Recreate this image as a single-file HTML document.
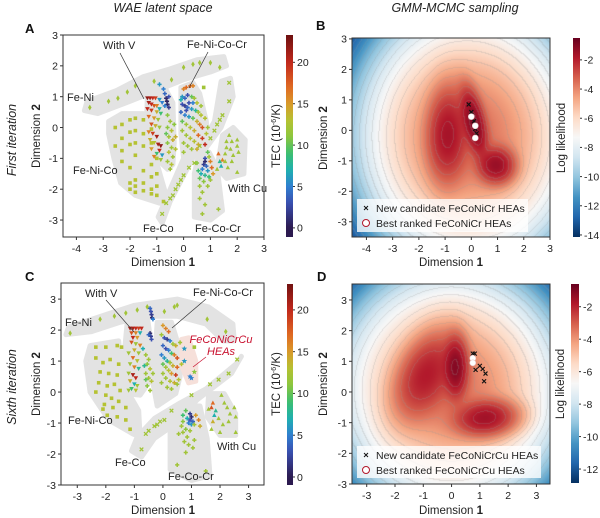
<!DOCTYPE html>
<html><head><meta charset="utf-8">
<style>
body{margin:0;background:#fff;width:600px;height:518px;overflow:hidden;position:relative;font-family:"Liberation Sans",sans-serif}
canvas{position:absolute}
svg{position:absolute;left:0;top:0}
</style></head><body>
<canvas id="hmB" style="left:352px;top:38px" width="198" height="199"></canvas>
<canvas id="hmD" style="left:352px;top:284px" width="198" height="200"></canvas>
<svg id="svg" width="600" height="518" font-family="Liberation Sans, sans-serif"></svg>
<script>
// ---------- DATA ----------
const tecTicks=[0,5,10,15,20];
const llTicksB=[-2,-4,-6,-8,-10,-12,-14];
const llTicksD=[-2,-4,-6,-8,-10,-12];
const xTicksAB=[-4,-3,-2,-1,0,1,2,3];
const xTicksCD=[-3,-2,-1,0,1,2,3];
const yTicksA=[-3,-2,-1,0,1,2,3];
// panel A points "x y tec;..."
const aFeNi="-3.5 .65 12;-2.8 .85 12;-2.45 .95 12;-2.1 1.15 12;-1.8 1.35 12;-1.1 1.5 12;-0.45 1.55 12;0 1.95 12;0.35 2.05 12;0.6 2.1 12;1.0 2.1 12;1.35 1.95 12";
const aFeNiCo="-2.3 .1 13;-2.3 -.35 13;-2.3 -.75 13;-2.3 -1.1 13;-2 .25 13;-2 -.15 13;-2 -.55 13;-2 -1.3 13;-2 -1.8 13;-2 -2 13;-1.8 .3 13;-1.8 -.1 13;-1.8 -.5 13;-1.8 -.9 13;-1.8 -1.7 13;-1.8 -1.9 13;-1.8 -2.1 13;-1.5 .25 13;-1.5 -.2 13;-1.5 -.6 13;-1.5 -1.4 13;-1.5 -1.8 13;-1.5 -2.05 13;-1.2 -.05 13;-1.2 -.5 13;-1.2 -1.2 13;-1.2 -1.6 13;-1.2 -2 13;-1.2 -2.15 13;-1 -1 13;-1 -1.5 13;-1 -1.9 13;-1 -2.2 13;-.75 -2.4 13;-2.55 0 13;-2.55 -.6 13;.75 1.3 12";
const aFeCo="-.8 -2.8 12;-.65 -2.45 12;-.5 -2.3 12;-.4 -2.2 12;-.3 -2 12;-.2 -1.85 12;-.1 -1.7 12;0 -1.55 12;.2 -1.3 12;.4 -1.15 12;1.7 1.45 12;1.7 .85 12;1.45 .4 12;1.35 .25 12;1.25 .1 12;1.15 -.1 12;1 -.35 12;.6 -.6 12";
const aFeCoCr=".8 -1 3;.8 -1.1 1;.75 -1.2 2;.85 -1.25 4;.7 -1.35 5;.9 -1.4 6;.65 -1.5 7;.8 -1.55 8;.95 -1.6 9;.55 -1.4 9;.6 -1.65 10;.75 -1.75 11;.6 -1.9 12;.9 -1.9 12;.7 -2.1 12;.6 -2.3 12;.8 -2.5 12;.7 -2.8 12;1.3 -2.65 12;1 -1.1 16;1.05 -1.3 17;.9 -.8 10;.95 -.95 12;.5 -1.15 11;1 -1.7 12;1.1 -1.5 15";
const aCu="1.7 -.25 12;1.6 -.45 12;1.8 -.45 12;1.6 -.65 12;1.75 -.7 12;2 -.4 12;2 -.6 12;1.55 -.85 12;1.85 -.9 12;2.05 -.8 12;1.8 -1.1 12;1.65 -1.3 12;2 -1.45 12;1.45 -1.05 16;1.35 -1.1 8;1.4 -1.25 7;1.3 -.85 17;1.25 -1.35 12;1.55 -1.1 12";
const aV="-1.35 .95 22;-1.25 .95 21;-1.15 .95 20;-1.05 .95 19;-1.3 .8 21;-1.2 .75 20;-1.1 .7 18;-1 .7 16;-1.35 .6 20;-1.2 .55 19;-1 .5 14;-.9 .6 7;-.85 .45 9;-1.3 .35 17;-1.1 .3 15;-.95 .25 12;-1.2 .1 18;-1.05 .05 14;-.9 0 12;-1.3 -.15 16;-1.15 -.2 19;-1 -.3 21;-1.25 -.4 14;-1.1 -.5 13;-.95 -.55 21;-.85 -.6 22;-1.2 -.7 15;-.9 -.75 20;-1 -.85 9;-.8 -.9 6;-1.1 -.95 16;-.85 -1.05 12;-.9 .9 6;-.8 .8 5";
const aMid="-.75 1.25 5;-.7 1.1 4;-.65 .95 1;-.62 .85 .5;-.6 .75 1;-.55 .65 2;-.7 .7 5;-.9 1.4 6;-.55 1 3;-.6 .4 11;-.5 .2 12;-.6 0 11;-.45 -.1 13;-.55 -.3 12;-.4 -.4 14;-.6 -.5 11;-.45 -.65 12;-.55 -.8 13;-.4 -.95 12;-.6 -1.1 12;-.45 -1.2 13;-.3 -.3 14;-.35 .1 11;-.65 -.2 10;-.5 -1.35 12;-.3 -.7 13";
const aFNCC="0 1.25 16;.1 1.3 17;.25 1.35 17;.35 1.35 16;-.05 1 6;.05 .95 4;.15 1.05 3;.3 1 10;.4 .95 12;.5 .8 13;-.05 .75 3;.05 .7 2;.15 .65 4;.3 .6 6;.45 .55 8;.55 .5 12;.65 .4 13;-.1 .5 4;.05 .4 5;.2 .35 6;.35 .3 10;.5 .2 14;.6 .1 16;.7 0 18;-.05 .2 10;.1 .1 12;.25 0 13;.4 -.1 14;.55 -.25 17;.7 -.35 19;.8 -.55 20;-.05 -.1 12;.1 -.25 12;.25 -.35 13;.4 -.45 13;.55 -.55 14;0 -.5 12;.15 -.6 12;.3 -.7 12;.5 -.7 14;0 -.8 12;.65 .7 12;.8 .3 13;.9 0 12;.85 -.2 13;.2 .8 3;.35 .8 5;.1 .55 3;-.1 .9 7";
// panel C points
const cFeNi="-3.25 1.9 12;-2.2 2.35 12;-1.7 2.45 12;-1.3 2.55 12;-.9 2.65 12;-.55 2.75 12;.05 2.6 12;.4 2.75 12;.5 2.8 12;1.55 2.35 12;2.2 1.95 12";
const cFeNiCo="-2.35 1.45 13;-2 1.45 13;-1.6 1.5 13;-1.45 1.45 13;-2.35 1.1 13;-2.1 .95 13;-1.85 1.05 13;-1.55 .9 13;-2.2 .65 13;-1.9 .6 13;-1.6 .55 13;-2.25 .3 13;-1.95 .2 13;-1.7 .25 13;-1.5 .05 13;-2 -.1 13;-1.8 -.2 13;-1.55 -.3 13;-2.05 -.4 13;-1.75 -.5 13;-1.3 -.5 13;-1.95 -.75 13;-1.6 -.8 13;-1.3 -.9 13;-1.15 -1.2 13;-2.35 0 13;-2.1 -.55 13;1.1 1.45 12";
const cFeCo="-.75 -1.85 12;-.6 -1.35 12;-.5 -1.25 12;-.3 -1.1 12;-.2 -1.05 12;-.1 -.95 12;.05 -.9 12;.3 -.6 12;2.6 1.05 12;2.3 .6 12;1.95 .4 12;1.65 .25 12;1 -.1 12";
const cFeCoCr=".95 -.7 2;1 -.8 1;.95 -.9 3;1.05 -.95 4;.9 -1 5;1 -1.05 6;.85 -.85 7;.8 -.6 10;.7 -.75 9;.7 -.95 11;.65 -1.1 12;.8 -1.2 11;.95 -1.25 12;.7 -1.3 12;.55 -1.35 12;.85 -1.45 12;.75 -1.6 12;.9 -1.7 12;.8 -1.95 12;1.1 -1.55 12;1.05 -1.8 12;.5 -2.35 12;1.5 -2.55 12;1.15 -.75 15;1.25 -.9 16;1.3 -1.1 14;1.1 -1.05 12";
const cCu="2.05 -.1 12;2.15 -.35 12;2.25 -.5 12;2.35 -.7 12;2.5 -.5 12;2.55 -.8 12;2.3 -.95 12;2.55 -1.3 12;1.6 -.55 12;1.75 -.35 17;1.7 -.5 18;1.85 -.6 8;1.8 -.75 7;1.95 -.85 12;1.75 -.95 14;2.1 -1.05 12;1.7 -1.2 12;2 -1.3 12";
const cV="-1.15 2.05 21;-1.05 2.05 21;-.95 2.05 20;-.85 2.05 19;-.75 2.05 20;-1.1 1.9 18;-.95 1.9 16;-.8 1.9 7;-1.05 1.75 20;-.9 1.75 15;-1.1 1.6 18;-.95 1.55 12;-.8 1.5 16;-1 1.35 14;-.85 1.25 12;-1.2 1.25 12;-1.05 1.1 17;-.9 1 13;-1.15 .9 12;-1 .8 16;-.85 .75 8;-1.2 .6 12;-1.05 .55 21;-.95 .45 20;-1.15 .35 14;-1 .25 7;-.9 .2 12;-1.1 .1 9;-1.2 .05 12;-.95 .05 13";
const cMid="-.45 2.7 4;-.42 2.6 3;-.4 2.5 2;-.38 2.4 1;-.35 2.35 5;-.45 1.9 1;-.42 1.8 2;-.4 1.7 3;-.5 1.85 4;-.6 1.2 12;-.5 1.05 12;-.55 .9 11;-.45 .75 13;-.6 .6 12;-.5 .45 12;-.4 .35 13;-.55 .2 11;-.45 .05 12;-.6 .4 10;-.35 .6 12;-.65 .85 8;-.7 1.4 7";
const cFNCC="0 2.15 15;.1 2.05 16;.2 1.95 17;-.05 1.85 12;.05 1.75 3;.15 1.7 2;.25 1.65 5;.35 1.55 12;.45 1.5 14;0 1.5 4;.1 1.4 3;.2 1.35 5;.3 1.25 9;.4 1.2 16;.5 1.1 18;-.05 1.2 5;.05 1.1 6;.15 1 8;.25 .95 12;.35 .85 14;.5 .8 17;0 .9 10;.1 .8 12;.2 .7 13;.3 .6 15;.45 .55 19;0 .6 12;.1 .45 12;.25 .35 13;.4 .3 14;.5 .25 12;-.05 .3 12;.15 .15 12;.3 .1 12;.6 1.6 12;.65 .9 13;.55 .4 13";
const cCuHEA=".75 1.4 6;.75 1 6;.95 .5 5;1 .45 5;1.1 .65 11";
// candidate points
const bCandX=[-0.1,0.0,0.1,0.15,0.2];
const bCandY=[0.85,0.6,0.3,0.05,-0.1];
const bBestX=[0.0,0.15,0.15];
const bBestY=[0.45,0.15,-0.25];
const dCandX=[0.75,0.82,1.0,1.1,1.2,0.85,1.15];
const dCandY=[1.25,1.25,0.85,0.75,0.6,0.72,0.35];
const dBestX=[0.75,0.75];
const dBestY=[1.1,0.95];
// GMM components: weight, mx, my, sx, sy, rho
const gmmB=[[0.3,-0.9,-0.15,0.38,0.75,0.05],[0.25,0.1,0.25,0.25,0.55,-0.5],[0.15,0.95,-1.15,0.35,0.3,0],[0.3,-0.1,-0.2,1.25,1.25,0]];
const gmmD=[[0.3,-0.9,0.55,0.55,0.7,0.4],[0.2,0.15,0.8,0.22,0.5,0],[0.2,1.2,-0.85,0.55,0.3,0.1],[0.3,0,0.1,1.25,1.2,0]];

// ---------- HELPERS ----------
const NS="http://www.w3.org/2000/svg";
const svg=document.getElementById('svg');
function el(tag,attrs,parent){const e=document.createElementNS(NS,tag);for(const k in attrs)e.setAttribute(k,attrs[k]);(parent||svg).appendChild(e);return e;}
function txt(s,x,y,o,name){const t=el('text',Object.assign({x:x,y:y,'font-size':11,fill:'#222'},o||{}));t.textContent=s;

return t;}
function lin(p0,p1,d0,d1){return v=>p0+(v-d0)/(d1-d0)*(p1-p0);}
function parse(s){return s.split(';').map(r=>r.trim().split(/\s+/).map(Number));}
function lerpHex(a,b,t){const pa=[1,3,5].map(i=>parseInt(a.substr(i,2),16)),pb=[1,3,5].map(i=>parseInt(b.substr(i,2),16));return pa.map((v,i)=>Math.round(v+(pb[i]-v)*t));}
function cmapStops(stops,v){if(v<=stops[0][0])return lerpHex(stops[0][1],stops[0][1],0);for(let i=1;i<stops.length;i++){if(v<=stops[i][0]){const t=(v-stops[i-1][0])/(stops[i][0]-stops[i-1][0]);return lerpHex(stops[i-1][1],stops[i][1],t);}}const l=stops[stops.length-1][1];return lerpHex(l,l,0);}
const tecStops=[[0,'#2c1a4f'],[3,'#3a4fb0'],[5,'#2f7fd0'],[7,'#1fb0b0'],[9,'#3cbf70'],[11,'#8cc63e'],[13,'#b5c232'],[15,'#d99a2a'],[17,'#df6a22'],[20,'#c1281c'],[23.3,'#6d1010']];
const rdbu=['#053061','#2166ac','#4393c3','#92c5de','#d1e5f0','#f7f7f7','#fddbc7','#f4a582','#d6604d','#b2182b','#67001f'];
function rdbuC(t){t=Math.max(0,Math.min(1,t));const s=rdbu.map((c,i)=>[i/10,c]);return cmapStops(s,t);}
function tecC(v){const c=cmapStops(tecStops,v);return `rgb(${c[0]},${c[1]},${c[2]})`;}

function marker(type,cx,cy,color,name){
  const r=2.2;let e;
  if(type==='diamond')e=el('polygon',{points:`${cx},${cy-r*1.3} ${cx+r*0.8},${cy} ${cx},${cy+r*1.3} ${cx-r*0.8},${cy}`,fill:color});
  else if(type==='square')e=el('rect',{x:cx-1.8,y:cy-1.8,width:3.6,height:3.6,fill:color});
  else if(type==='x')e=el('path',{d:`M${cx-1.8},${cy-1.8}L${cx+1.8},${cy+1.8}M${cx-1.8},${cy+1.8}L${cx+1.8},${cy-1.8}`,stroke:color,'stroke-width':1.3});
  else if(type==='plus')e=el('path',{d:`M${cx-2.1},${cy}L${cx+2.1},${cy}M${cx},${cy-2.1}L${cx},${cy+2.1}`,stroke:color,'stroke-width':1.5});
  else if(type==='tri')e=el('polygon',{points:`${cx},${cy-2.4} ${cx+2.2},${cy+1.7} ${cx-2.2},${cy+1.7}`,fill:color});
  else if(type==='vtri')e=el('polygon',{points:`${cx-2.3},${cy-1.9} ${cx+2.3},${cy-1.9} ${cx},${cy+2.2}`,fill:color});
  else if(type==='star')e=el('polygon',{points:starPts(cx,cy,3,1.3),fill:color});
  
  
  return e;
}
function starPts(cx,cy,R,r){let p=[];for(let i=0;i<10;i++){const a=-Math.PI/2+i*Math.PI/5,rr=i%2?r:R;p.push((cx+rr*Math.cos(a)).toFixed(1)+','+(cy+rr*Math.sin(a)).toFixed(1));}return p.join(' ');}

function blob(pts,X,Y,fill,name){
  const p=pts.map(q=>X(q[0]).toFixed(1)+','+Y(q[1]).toFixed(1)).join(' ');
  const e=el('polygon',{points:p,fill:fill,stroke:fill,'stroke-width':5,'stroke-linejoin':'round'});
  
  
}

function frame(x0,y0,x1,y1,X,Y,xt,yt,name){
  const g=el('g',{});
  
  
  el('rect',{x:x0,y:y0,width:x1-x0,height:y1-y0,fill:'none',stroke:'#333','stroke-width':1},g);
  xt.forEach(v=>{const x=X(v);el('line',{x1:x,x2:x,y1:y1,y2:y1+3,stroke:'#333'},g);txt(String(v),x,y1+15,{'text-anchor':'middle','font-size':10.5},'x-tick-label');});
  yt.forEach(v=>{const y=Y(v);el('line',{x1:x0-3,x2:x0,y1:y,y2:y,stroke:'#333'},g);txt(String(v),x0-5,y+3.8,{'text-anchor':'end','font-size':10.5},'y-tick-label');});
}
function xTitle(x,y){const t=txt('Dimension ',x,y,{'text-anchor':'middle','font-size':11.5},'x-axis-title');const s=el('tspan',{'font-weight':'bold'},t);s.textContent='1';}
function yTitle(x,y){const t=txt('Dimension ',x,y,{'text-anchor':'middle','font-size':11.5,transform:`rotate(-90 ${x} ${y})`},'y-axis-title');const s=el('tspan',{'font-weight':'bold'},t);s.textContent='2';}

function colorbar(id,x,y0,w,y1,vTop,vBot,colorFn,ticks,name){
  const gid='g'+id;const d=el('defs',{});const lg=el('linearGradient',{id:gid,x1:0,y1:0,x2:0,y2:1},d);
  for(let i=0;i<=40;i++){const v=vTop+(vBot-vTop)*i/40;el('stop',{offset:i/40,'stop-color':colorFn(v)},lg);}
  const r=el('rect',{x:x,y:y0,width:w,height:y1-y0,fill:`url(#${gid})`});
  
  
  const Y=lin(y0,y1,vTop,vBot);
  ticks.forEach(v=>{el('line',{x1:x+w,x2:x+w+2,y1:Y(v),y2:Y(v),stroke:'#333'});txt(String(v),x+w+4,Y(v)+3.8,{'font-size':10.5},'colorbar-tick-label');});
}

// ---------- PANEL A ----------
(function(){
const X=lin(63,264,-4.5,3.0),Y=lin(35,237,3.0,-3.55);
const gray='#e3e3e3';
blob([[-3.7,.55],[-3.6,.85],[-2.5,1.2],[-1.5,1.65],[-.5,1.9],[.5,2.2],[1.5,2.3],[1.6,2.0],[1,1.8],[0,1.55],[-1,1.2],[-2,.85],[-3.2,.45]],X,Y,gray,'fe-ni-region');
blob([[-2.8,.2],[-2.3,.45],[-1.5,.45],[-1.25,.1],[-1.05,-1],[-.65,-2.2],[-.65,-2.5],[-.9,-2.45],[-1.8,-2.2],[-2.35,-1.8],[-2.6,-1],[-2.8,-.2]],X,Y,gray,'fe-ni-co-region');
blob([[-1.35,1.1],[-.7,1.3],[-.4,.8],[-.35,-.5],[-.4,-1.2],[-.6,-1.35],[-.9,-1.1],[-1.2,-1.05],[-1.4,-.4]],X,Y,gray,'with-v-region');
blob([[-.1,1.3],[.35,1.45],[.6,1.1],[.85,.2],[.9,-.5],[.6,-.7],[0,-1.0],[-.1,-.2]],X,Y,gray,'fe-ni-co-cr-region');
blob([[1.4,1.5],[1.75,1.6],[1.85,1.0],[1.4,0],[.85,-.65],[.65,-.55],[1.15,.2]],X,Y,gray,'elongated-region');
blob([[.15,-.7],[.4,-.9],[-.5,-2.4],[-.8,-3.1],[-.95,-2.9],[-.35,-1.7]],X,Y,gray,'fe-co-region');
blob([[.6,-.75],[.95,-.8],[1.25,-1.3],[1.45,-2.7],[1,-3],[.4,-2.9],[.4,-1.5]],X,Y,gray,'fe-co-cr-region');
blob([[1.45,-.25],[1.85,0],[2.3,-.4],[2.25,-1.5],[1.6,-1.65],[1.25,-1.3]],X,Y,gray,'with-cu-region');
[[aFeNi,'diamond'],[aFeNiCo,'square'],[aFeCo,'x'],[aFeCoCr,'plus'],[aCu,'tri'],[aMid,'plus'],[aFNCC,'plus'],[aV,'vtri']].forEach(([s,m])=>parse(s).forEach(p=>marker(m,X(p[0]),Y(p[1]),tecC(p[2]),'alloy-point')));
frame(63,35,264,237,X,Y,xTicksAB,yTicksA,'panel-a');
const L=(s,x,y,n)=>txt(s,x,y,{'font-size':11},n);
L('With V',103,49,'with-v-label');el('line',{x1:120,y1:53,x2:144,y2:99,stroke:'#333','stroke-width':.7});
L('Fe-Ni-Co-Cr',187,48,'fe-ni-co-cr-label');el('line',{x1:208,y1:52,x2:189,y2:88,stroke:'#333','stroke-width':.7});
L('Fe-Ni',67,101,'fe-ni-label');L('Fe-Ni-Co',73,174,'fe-ni-co-label');L('Fe-Co',143,232,'fe-co-label');L('Fe-Co-Cr',195,232,'fe-co-cr-label');L('With Cu',228,192,'with-cu-label');
xTitle(163,266);yTitle(40,136);
colorbar('a',286,35,7,237,23.3,-1.1,tecC,tecTicks,'tec-colorbar-a');
const t=txt('TEC (10',280,136,{'text-anchor':'middle','font-size':11.5,transform:'rotate(-90 280 136)'},'colorbar-title');
const s1=el('tspan',{'font-size':7,dy:-4},t);s1.textContent='-6';const s2=el('tspan',{dy:4},t);s2.textContent='/K)';
})();

// ---------- PANEL C ----------
(function(){
const X=lin(61,264,-3.57,3.54),Y=lin(283,485,3.52,-3.0);
const gray='#e3e3e3';
blob([[-3.4,1.85],[-3.3,2.1],[-2,2.5],[-1,2.8],[.5,3.0],[1.6,2.75],[2.45,2.2],[2.5,1.65],[2.1,1.65],[1.5,2.2],[.5,2.45],[-.5,2.45],[-1.5,2.25],[-2.5,1.95]],X,Y,gray,'fe-ni-region');
blob([[2.75,1.15],[2.55,.9],[1.5,.1],[.6,-.35],[-.3,-.85],[-.9,-1.45],[-1.1,-1.9],[-.75,-2.1],[-.3,-1.5],[.4,-1.05],[1.2,-.25],[2.4,.6]],X,Y,gray,'fe-co-region');
blob([[-2.55,1.5],[-1.55,1.65],[-1.5,1.1],[-1.35,.2],[-.85,-.6],[-.8,-1.45],[-1.05,-1.35],[-1.9,-.9],[-2.55,0],[-2.7,1]],X,Y,gray,'fe-ni-co-region');
blob([[-1.25,2.25],[-.55,2.45],[-.4,1.5],[-.5,.3],[-.8,-.1],[-1.3,-.05],[-1.4,.8]],X,Y,gray,'with-v-region');
blob([[-.2,2.25],[.3,2.25],[.55,1.5],[.6,.5],[.45,-.05],[-.2,-.45],[-.35,.3]],X,Y,gray,'fe-ni-co-cr-region');
blob([[.65,1.7],[.9,1.75],[1.15,1],[1.15,.35],[.9,.3],[.68,.8]],X,Y,'#f6e0da','fecocnicrcu-region');
blob([[.7,-.45],[1.3,-.45],[1.55,-1.5],[1.65,-2.7],[1,-2.85],[.25,-2.5],[.25,-1]],X,Y,gray,'fe-co-cr-region');
blob([[1.6,-.05],[2.15,-.05],[2.55,-.7],[2.55,-1.4],[2,-1.4],[1.55,-.8]],X,Y,gray,'with-cu-region');
[[cFeNi,'diamond'],[cFeNiCo,'square'],[cFeCo,'x'],[cFeCoCr,'plus'],[cCu,'tri'],[cMid,'plus'],[cFNCC,'plus'],[cV,'vtri'],[cCuHEA,'star']].forEach(([s,m])=>parse(s).forEach(p=>marker(m,X(p[0]),Y(p[1]),tecC(p[2]),'alloy-point')));
frame(61,283,264,485,X,Y,xTicksCD,yTicksA,'panel-c');
const L=(s,x,y,n)=>txt(s,x,y,{'font-size':11},n);
L('With V',85,297,'with-v-label');el('line',{x1:106,y1:300,x2:134,y2:332,stroke:'#333','stroke-width':.7});
L('Fe-Ni-Co-Cr',193,296,'fe-ni-co-cr-label');el('line',{x1:206,y1:299,x2:172,y2:328,stroke:'#333','stroke-width':.7});
L('Fe-Ni',65,326,'fe-ni-label');L('Fe-Ni-Co',68,424,'fe-ni-co-label');L('Fe-Co',115,466,'fe-co-label');L('Fe-Co-Cr',168,480,'fe-co-cr-label');L('With Cu',217,450,'with-cu-label');
txt('FeCoNiCrCu',221,343,{'font-size':11,'font-style':'italic',fill:'#c8102e','text-anchor':'middle'},'fecocnicrcu-label');
txt('HEAs',221,355,{'font-size':11,'font-style':'italic',fill:'#c8102e','text-anchor':'middle'},'heas-label');
el('line',{x1:206,y1:357,x2:193,y2:367,stroke:'#c8102e','stroke-width':.7});
xTitle(163,514);yTitle(40,384);
colorbar('c',287,284,6,485,23.1,-0.96,tecC,tecTicks,'tec-colorbar-c');
const t=txt('TEC (10',280,384,{'text-anchor':'middle','font-size':11.5,transform:'rotate(-90 280 384)'},'colorbar-title');
const s1=el('tspan',{'font-size':7,dy:-4},t);s1.textContent='-6';const s2=el('tspan',{dy:4},t);s2.textContent='/K)';
})();

// ---------- HEATMAPS ----------
function logLik(g,x,y){let s=0;for(const c of g){const[w,mx,my,sx,sy,r]=c;const dx=(x-mx)/sx,dy=(y-my)/sy;const q=(dx*dx-2*r*dx*dy+dy*dy)/(1-r*r);s+=w*Math.exp(-q/2)/(2*Math.PI*sx*sy*Math.sqrt(1-r*r));}return Math.log(s);}
function heat(id,g,xd0,xd1,yd0,yd1,vmin,vmax){
  const c=document.getElementById(id),ctx=c.getContext('2d'),W=c.width,H=c.height;const img=ctx.createImageData(W,H);
  const L=[];for(let j=0;j<=H;j++){L.push([]);for(let i=0;i<=W;i++){L[j].push(logLik(g,xd0+(i+.5)/W*(xd1-xd0),yd0+(j+.5)/H*(yd1-yd0)));}}
  const step=0.6;
  for(let j=0;j<H;j++)for(let i=0;i<W;i++){const v=L[j][i];let col=rdbuC((v-vmin)/(vmax-vmin));
    const k=Math.floor(v/step);if(Math.floor(L[j][i+1]/step)!==k||Math.floor(L[j+1][i]/step)!==k){col=col.map(x=>Math.round(x*0.75+150*0.25));}
    const o=(j*W+i)*4;img.data[o]=col[0];img.data[o+1]=col[1];img.data[o+2]=col[2];img.data[o+3]=255;}
  ctx.putImageData(img,0,0);
}
heat('hmB',gmmB,-4.55,3.0,3.03,-3.5,-14.14,-0.5);
heat('hmD',gmmD,-3.52,3.48,3.52,-3.0,-12.86,-0.6);

function llC(vmin,vmax){return v=>{const c=rdbuC((v-vmin)/(vmax-vmin));return `rgb(${c[0]},${c[1]},${c[2]})`;};}

function legend(x,y,w,h,label1,label2){
  const g=el('g',{});
  
  
  el('rect',{x:x,y:y,width:w,height:h,fill:'#fff','fill-opacity':0.78},g);
  el('path',{d:`M${x+7},${y+7}L${x+11},${y+11}M${x+7},${y+11}L${x+11},${y+7}`,stroke:'#111','stroke-width':1},g);
  txt(label1,x+19,y+13,{'font-size':10.5},'legend-entry-candidate');
  el('circle',{cx:x+9,cy:y+24,r:3.5,fill:'#fff',stroke:'#b2182b','stroke-width':1},g);
  txt(label2,x+19,y+28,{'font-size':10.5},'legend-entry-best');
}
function cands(X,Y,cx,cy,bx,by){
  cx.forEach((v,i)=>{const x=X(v),y=Y(cy[i]);const e=el('path',{d:`M${x-2},${y-2}L${x+2},${y+2}M${x-2},${y+2}L${x+2},${y-2}`,stroke:'#111','stroke-width':1.1});
    
    });
  bx.forEach((v,i)=>{const e=el('circle',{cx:X(v),cy:Y(by[i]),r:3,fill:'#fff',stroke:'#e8c8c8','stroke-width':0.6});
    
    });
}
// ---------- PANEL B ----------
(function(){
const X=lin(352,550,-4.55,3.0),Y=lin(38,237,3.03,-3.5);
cands(X,Y,bCandX,bCandY,bBestX,bBestY);
legend(357,199,171,33,'New candidate FeCoNiCr HEAs','Best ranked FeCoNiCr HEAs');
frame(352,38,550,237,X,Y,xTicksAB,yTicksA,'panel-b');
xTitle(451,266);yTitle(327,138);
colorbar('b',573,38,7,237,-0.5,-14.14,llC(-14.14,-0.5),llTicksB,'log-likelihood-colorbar-b');
txt('Log likelihood',565,138,{'text-anchor':'middle','font-size':11.5,transform:'rotate(-90 565 138)'},'colorbar-title');
})();
// ---------- PANEL D ----------
(function(){
const X=lin(352,550,-3.52,3.48),Y=lin(284,484,3.52,-3.0);
cands(X,Y,dCandX,dCandY,dBestX,dBestY);
legend(357,446,184,32,'New candidate FeCoNiCrCu HEAs','Best ranked FeCoNiCrCu HEAs');
frame(352,284,550,484,X,Y,xTicksCD,yTicksA,'panel-d');
xTitle(451,514);yTitle(327,384);
colorbar('d',571,284,8,483,-0.6,-12.86,llC(-12.86,-0.6),llTicksD,'log-likelihood-colorbar-d');
txt('Log likelihood',564,384,{'text-anchor':'middle','font-size':11.5,transform:'rotate(-90 564 384)'},'colorbar-title');
})();
// ---------- TITLES ----------
txt('WAE latent space',163,12,{'text-anchor':'middle','font-size':12.5,'font-style':'italic'},'column-title-wae');
txt('GMM-MCMC sampling',455,12,{'text-anchor':'middle','font-size':12.5,'font-style':'italic'},'column-title-gmm');
txt('A',25,33,{'font-size':13,'font-weight':'bold',fill:'#111'},'panel-label-a');
txt('B',316,30,{'font-size':13,'font-weight':'bold',fill:'#111'},'panel-label-b');
txt('C',25,281,{'font-size':13,'font-weight':'bold',fill:'#111'},'panel-label-c');
txt('D',317,281,{'font-size':13,'font-weight':'bold',fill:'#111'},'panel-label-d');
txt('First iteration',16,140,{'text-anchor':'middle','font-size':12.5,'font-style':'italic',transform:'rotate(-90 16 140)'},'row-title-first');
txt('Sixth iteration',16,387,{'text-anchor':'middle','font-size':12.5,'font-style':'italic',transform:'rotate(-90 16 387)'},'row-title-sixth');
</script>
</body></html>
